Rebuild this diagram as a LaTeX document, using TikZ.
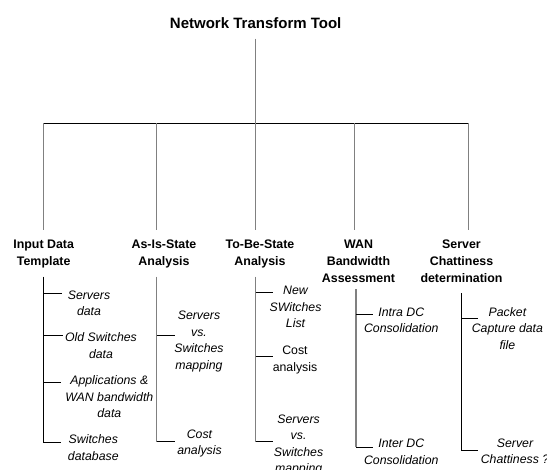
\documentclass[tikz,border=0pt]{standalone}
\usepackage{fontspec}
\setmainfont{Liberation Sans}
\usetikzlibrary{positioning}
\definecolor{linegray}{RGB}{128,128,128}

\begin{document}
\begin{tikzpicture}[x=1pt, y=-1pt,
    hdr/.style={font=\bfseries\fontsize{12.4}{17}\selectfont, align=center, anchor=north, inner sep=0pt},
    item/.style={font=\itshape\fontsize{12.3}{16.4}\selectfont, align=center, inner sep=0pt},
    drop/.style={draw=linegray, line width=1.4pt},
    wire/.style={draw=black, line width=1pt}]
    \clip (0,0) rectangle (547,470); % page size of the picture

    % Root of the tree
    \node[font=\bfseries\fontsize{15}{18}\selectfont, inner sep=0pt] (title) at (255.7,23.3) {Network Transform Tool};

    % Bus line and its five drops
    \coordinate (d1) at (43.6,123.3);
    \coordinate (d2) at (156.6,123.3);
    \coordinate (d3) at (255.7,123.3);
    \coordinate (d4) at (354.7,123.3);
    \coordinate (d5) at (468.3,123.3);
    \draw[drop, shorten <=9.5pt] (title.south) -- (d3); % line under the title
    \draw[wire] (d1) -- (d5);

    % Headers of the five branches
    \node[hdr] (h1) at (43.7,240) {Input Data\\Template};
    \node[hdr] (h2) at (164,240) {As-Is-State\\Analysis};
    \node[hdr] (h3) at (260,240) {To-Be-State\\Analysis};
    \node[hdr] (h4) at (358.5,240) {WAN\\Bandwidth\\Assessment};
    \node[hdr] (h5) at (461.5,240) {Server\\Chattiness\\determination};
    \draw[drop, shorten >=10pt] (d1) -- (d1 |- h1.north);
    \draw[drop, shorten >=10pt] (d2) -- (d2 |- h2.north);
    \draw[drop, shorten >=10pt] (d3) -- (d3 |- h3.north);
    \draw[drop, shorten >=10pt] (d4) -- (d4 |- h4.north);
    \draw[drop, shorten >=10pt] (d5) -- (d5 |- h5.north);

    % Input Data Template
    \coordinate (s1) at (43.4,276.7);
    \coordinate (b11) at (61.5,294);
    \coordinate (b12) at (62.5,336);
    \coordinate (b13) at (61,382.3);
    \coordinate (b14) at (61,442.3);
    \node[item] (i11) at (89,303) {Servers\\data};
    \node[item] (i12) at (101,345.5) {Old Switches\\data};
    \node[item] (i13) at (109.3,397) {Applications \&\\WAN bandwidth\\data};
    \node[item] (i14) at (93.3,447.5) {Switches\\database};
    \draw[wire] (s1) -- (s1 |- b14);
    \draw[wire] (s1 |- b11) -- (b11);
    \draw[wire] (s1 |- b12) -- (b12);
    \draw[wire] (s1 |- b13) -- (b13);
    \draw[wire] (s1 |- b14) -- (b14);

    % As-Is-State Analysis
    \coordinate (s2) at (156.7,276.7);
    \coordinate (b21) at (174.5,336);
    \coordinate (b22) at (174.5,442);
    \node[item] (i21) at (199,341.5) {Servers\\vs.\\Switches\\mapping};
    \node[item] (i22) at (199.5,443.3) {Cost\\analysis};
    \draw[drop] (s2) -- (s2 |- b22);
    \draw[wire] (s2 |- b21) -- (b21);
    \draw[wire] (s2 |- b22) -- (b22);

    % To-Be-State Analysis
    \coordinate (s3) at (255.7,276.7);
    \coordinate (b31) at (273.3,292.3);
    \coordinate (b32) at (273.3,356.7);
    \coordinate (b33) at (273.3,441.7);
    \node[item] (i31) at (295.5,307) {New\\SWitches\\List};
    \node[item, font=\upshape\fontsize{12.3}{16.4}\selectfont] (i32) at (295,360) {Cost\\analysis};
    \node[item] (i33) at (298.6,445) {Servers\\vs.\\Switches\\mapping};
    \draw[drop] (s3) -- (s3 |- b33);
    \draw[wire] (s3 |- b31) -- (b31);
    \draw[wire] (s3 |- b32) -- (b32);
    \draw[wire] (s3 |- b33) -- (b33);

    % WAN Bandwidth Assessment
    \coordinate (s4) at (356,289.3);
    \coordinate (b41) at (373.3,315);
    \coordinate (b42) at (373.3,447.3);
    \node[item] (i41) at (401.3,320) {Intra DC\\Consolidation};
    \node[item] (i42) at (401.3,451.7) {Inter DC\\Consolidation};
    \draw[drop] (s4) -- (s4 |- b42);
    \draw[wire] (s4 |- b41) -- (b41);
    \draw[wire] (s4 |- b42) -- (b42);

    % Server Chattiness determination
    \coordinate (s5) at (461.7,293.3);
    \coordinate (b51) at (478.3,319);
    \coordinate (b52) at (478.3,450.7);
    \node[item] (i51) at (507.4,328.6) {Packet\\Capture data\\file};
    \node[item] (i52) at (515,451.3) {Server\\Chattiness ?};
    \draw[wire] (s5) -- (s5 |- b52);
    \draw[wire] (s5 |- b51) -- (b51);
    \draw[wire] (s5 |- b52) -- (b52);
\end{tikzpicture}
\end{document}
